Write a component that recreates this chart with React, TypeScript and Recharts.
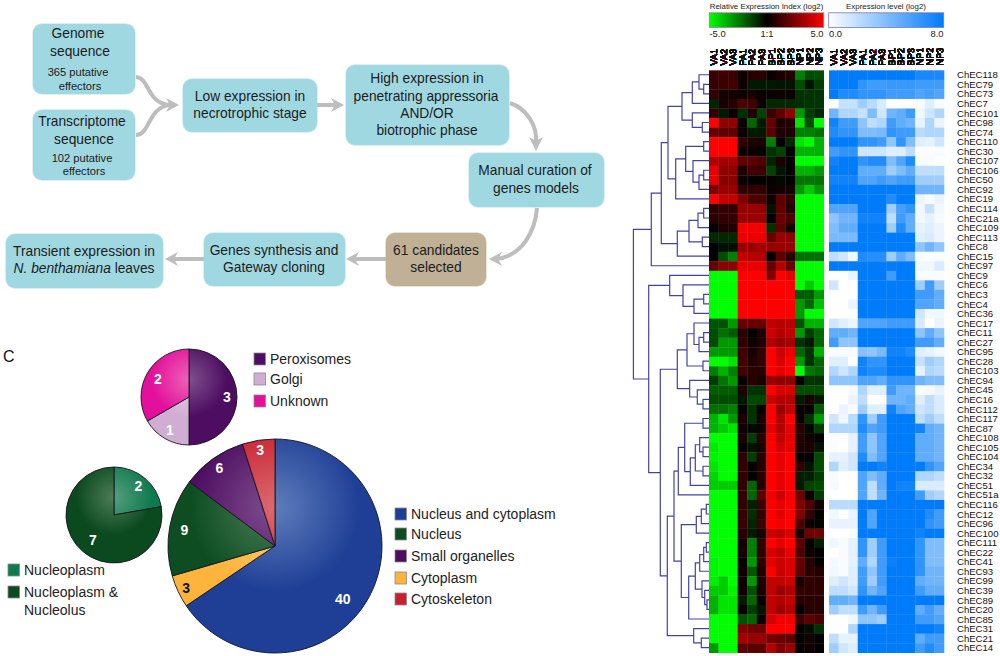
import React from 'react';
import { Cell, Line, LineChart, Pie, PieChart, Scatter, ScatterChart, XAxis, YAxis } from 'recharts';

const SANS = '"Liberation Sans", Arial, sans-serif';

// heatmap labels
const columnLabels = ['VA1', 'VA2', 'VA3', 'PA1', 'PA2', 'PA3', 'BP1', 'BP2', 'BP3', 'NP1', 'NP2', 'NP3'];
const rowLabels = [
  'ChEC118', 'ChEC79', 'ChEC73', 'ChEC7', 'ChEC101', 'ChEC98', 'ChEC74', 'ChEC110', 'ChEC30', 'ChEC107', 'ChEC106',
  'ChEC50', 'ChEC92', 'ChEC19', 'ChEC114', 'ChEC21a', 'ChEC109', 'ChEC113', 'ChEC8', 'ChEC15', 'ChEC97', 'ChEC9',
  'ChEC6', 'ChEC3', 'ChEC4', 'ChEC36', 'ChEC17', 'ChEC11', 'ChEC27', 'ChEC95', 'ChEC28', 'ChEC103', 'ChEC94',
  'ChEC45', 'ChEC16', 'ChEC112', 'ChEC117', 'ChEC87', 'ChEC108', 'ChEC105', 'ChEC104', 'ChEC34', 'ChEC32', 'ChEC51',
  'ChEC51a', 'ChEC116', 'ChEC12', 'ChEC96', 'ChEC100', 'ChEC111', 'ChEC22', 'ChEC41', 'ChEC93', 'ChEC99', 'ChEC39',
  'ChEC89', 'ChEC20', 'ChEC85', 'ChEC31', 'ChEC21', 'ChEC14',
];

// relative expression index, log2, one row per gene
const relativeExpression = [
  [1.2, 1.2, 1.2, 0.3, 0.8, 0.8, 0.2, 0.5, 0.7, -2.5, -1.5, -1.5],
  [1, 1.2, 1.3, 0.3, -0.5, -0.5, -0.5, -0.4, -0.4, -1.5, -0.4, -1.2],
  [1, 0.4, 0.4, 0.3, 0.4, 0.2, 0.2, 0.3, 0.2, -1, -1, -1],
  [-0.7, 0.5, 0.7, 1.5, 1.3, 0.2, -0.8, -0.8, -0.8, -0.9, -1, -1],
  [1, -0.5, 0.2, -0.9, 0.6, -1.3, 1.1, 1.8, 2.8, -3, -1.2, -0.8],
  [5, 2.8, 2.8, 0.2, -2, -0.5, 2, 0.5, 0.7, -4.5, -1.5, -5],
  [2, 1.8, 1.8, 0.2, -0.5, -0.5, 1.8, 0.6, 0.6, -2.5, -2.5, -2.2],
  [5, 5, 5, 0.9, 0.6, 0.5, -2.5, 0.1, -0.8, -4.5, -5, -3.5],
  [5, 5, 5, 0.3, 0.2, 0.1, -1, -1.3, 0.1, -3.5, -3.5, -3.5],
  [3.5, 3.2, 3.2, 1.8, 1.8, 1.5, -0.7, 0.5, 0.1, -5, -5, -5],
  [4.5, 2.8, 2.8, 0.5, 1.3, 1.2, -1.3, -0.4, 0.1, -3.5, -3.5, -3],
  [4.5, 2.7, 2.7, 0.2, 0.1, 0.1, 0.2, -0.2, 0.1, -2.3, -2.3, -2.3],
  [2.5, 3, 3, 0.9, 1, 1, 0.2, 0.4, 0.4, -3, -4, -3],
  [5, 3.8, 3.8, 2.5, 1.5, 1.5, 0.3, 1.8, 1, -5, -5, -5],
  [0.8, 1, 1, 3, 3, 3, -0.4, 1.8, 0.8, -5, -5, -5],
  [0.8, 1, 1, 3, 3, 3, 0.1, 2, 1.5, -5, -5, -5],
  [0.1, 0.6, 0.6, 4.8, 4.8, 4.8, -1, 1.8, 0.5, -5, -5, -5],
  [-0.8, -0.8, -0.8, 4.6, 4.6, 4.6, 2, 3, 2.8, -5, -5, -5],
  [0, -0.3, -0.3, 3, 3, 3.2, 3, 3, 3, -5, -5, -5],
  [0.1, -1.5, -2.5, 3.8, 3.5, 3.5, 0.1, 1.8, 0.8, -2.2, -2.2, -2.2],
  [2, 2.8, 2.8, 4.5, 4.5, 4.5, 2, 3.5, 2, -5, -5, -5],
  [-5, -5, -5, 5, 5, 5, 2.5, 5, 4.5, -5, -5, -5],
  [-5, -5, -5, 5, 5, 5, 5, 5, 5, -5, -4, -5],
  [-5, -5, -5, 5, 5, 5, 5, 5, 5, -1.8, -1.8, -3],
  [-5, -5, -5, 5, 5, 5, 5, 5, 5, -3, -2, -3.8],
  [-5, -5, -5, 5, 5, 5, 5, 5, 5, -3, -5, -5],
  [-1.6, -1.6, -3, 2, 2, 2, 3.8, 3.6, 3.6, -1.6, -3.5, -3.5],
  [-1.5, -2.2, -1.8, 0.8, 0.1, 0.6, 4, 3.5, 3.8, -3, -1.2, -2],
  [-1.5, -3, -3, 0.9, 0.3, 0.6, 3.5, 3, 3.2, -1, -0.5, -2],
  [-3, -3, -3, 1.3, 0.4, 1, 5, 4, 4.5, -2, -1, -3.5],
  [-5, -5, -4.5, 1.3, 0.6, 1, 5, 4.2, 5, -3, -1, -2],
  [-2.5, -3.5, -2.5, 1.3, 0.8, 0.8, 5, 4.5, 5, -5, -2.3, -2],
  [-1.2, -2.3, -3, 0.2, 0.8, 0.5, 3, 2.8, 2.8, 0.1, -1, -1],
  [-1.8, -1.8, -1.8, 0.6, -1, -1, 5, 4.2, 4.2, -1.5, -1.5, -1.5],
  [-1.5, -1.5, -1.5, -0.4, -1.4, -1.4, 4, 3.5, 3.5, -0.5, 0.5, -0.5],
  [-2.2, -2.2, -2.5, 0.1, -1, 0.1, 5, 3, 3.8, 0.2, 0.1, -1.8],
  [-3.5, -4.5, -3, 0.6, -1, 0.5, 5, 3.5, 5, 0.2, -1, -3],
  [-3.5, -4, -4.5, 0.3, -0.2, 0.4, 4.5, 3.5, 4.5, 0.8, -0.2, -1.2],
  [-5, -5, -5, 0.5, -1.2, 0.8, 5, 3.8, 4.5, 0.7, 0.3, 0.1],
  [-4.6, -5, -5, 0.2, -0.4, 0.5, 5, 4.2, 4.5, 0.6, 0.5, -0.4],
  [-4.8, -5, -5, 0.9, -1.2, 0.8, 5, 4.5, 5, 0.1, 0.1, -1.5],
  [-4.5, -5, -5, 1, 0.1, 0.8, 5, 4.5, 5, 1, -0.4, -1.5],
  [-4.2, -5, -5, 1, 0, 0.8, 5, 4.5, 5, -0.6, -0.6, -1.2],
  [-4, -4, -4, 1, -2, 0.8, 5, 4.5, 5, -0.5, -1.3, -1.5],
  [-5, -5, -5, 1, -2, 1.8, 4.8, 4, 4.8, 2.2, 0.2, -1.2],
  [-5, -5, -5, 1, -0.6, 1.2, 5, 4.5, 5, 2.5, 1.5, 0.4],
  [-5, -5, -5, 1.1, -0.9, 1, 5, 4.4, 5, 2.5, 1, 0.1],
  [-5, -5, -5, 1.1, -0.7, 1.2, 5, 4.8, 5, 1.5, 0.2, -0.1],
  [-5, -5, -5, 0.8, -0.5, 0.5, 4, 3.8, 4.3, 0.4, 2.2, 2.2],
  [-5, -5, -5, 0.4, -2.5, 0.9, 5, 4.5, 5, 1.8, 0.1, -0.6],
  [-5, -5, -5, 0.5, -2.5, 0.9, 4.3, 3.8, 4.5, 1.5, 0.2, 0.1],
  [-4.8, -5, -5, 0.1, -3, 0.9, 4.5, 4, 4.3, 2, 0.7, 0.1],
  [-4.8, -5, -5, 0.3, -1.7, 0.6, 5, 3.9, 4.3, 1.8, 0.8, 0.7],
  [-4.7, -4, -5, 0.2, -3, 0.5, 3.8, 3.8, 4, 0.4, 1, 0.9],
  [-4, -4, -4.8, 0.2, -1.6, 0.5, 3.8, 3, 3.4, 1, 0.9, 0.9],
  [-3.5, -4.5, -4.5, -0.5, -2, 0.1, 3.8, 3.5, 3.8, 0.7, 0.8, 0.8],
  [-3.5, -4.5, -4.5, 0.1, -1.2, -0.4, 3.8, 3, 3.5, 0.1, 0.8, 0.8],
  [-5, -5, -5, -1.6, -2, 0.2, 4.2, 4.7, 4.7, 1.2, 1.8, 1.5],
  [-5, -5, -5, 2.5, 2.2, 2.2, 5, 5, 5, 0.1, -0.3, -1],
  [-5, -5, -5, 3.2, 3, 3, 2.3, 2, 1.8, 0.1, 0.4, 0.1],
  [-3, -5, -5, 1.8, 1.7, 1.8, 3.5, 2.5, 3, 0.1, 0.3, 0.1],
];

// expression level, log2, same row order
const expressionLevel = [
  [8, 8, 8, 8, 8, 8, 8, 8, 8, 7.2, 7.2, 7.2],
  [8, 8, 8, 6.5, 6, 6, 6.2, 6.2, 6.2, 6, 6, 6],
  [8, 7, 7, 6.5, 6.5, 6.5, 6, 6, 6, 5.5, 5.8, 5.5],
  [0, 1.8, 1.8, 3, 2.2, 1.2, 0, 0, 0, 0.2, 1, 0.2],
  [4.5, 2.5, 2.5, 1.8, 4, 1.5, 4.5, 5, 6, 0.5, 1.5, 2.5],
  [7.5, 6, 6, 3.5, 2, 2.5, 6, 5, 4.5, 0.7, 2.5, 0.6],
  [7, 6.5, 6.5, 4, 4, 4.2, 6.5, 6, 6, 2.2, 2.5, 2.5],
  [8, 8, 8, 6.5, 6.5, 6, 3.5, 6.5, 4, 1, 0.8, 1.5],
  [6, 6.5, 6.5, 1.5, 1.5, 1.5, 1, 1, 2, 0.1, 0.1, 0.2],
  [7.5, 8, 8, 6.5, 7, 7, 4, 5.5, 7, 0.2, 0.2, 0.1],
  [8, 8, 8, 5, 5, 5, 3, 4, 5, 2, 2, 2],
  [7.5, 7.5, 7.5, 5.5, 5.5, 6, 5.5, 6, 6, 3, 3, 3],
  [8, 8, 8, 8, 8, 8, 8, 8, 8, 4.5, 4.5, 4.5],
  [8, 8, 8, 8, 8, 8, 7, 8, 8, 0.6, 0.2, 0.6],
  [5.5, 5.5, 5.5, 8, 8, 8, 3, 5.8, 6.5, 0.4, 1.8, 0.4],
  [3.5, 4.5, 4.5, 7.5, 7.5, 7.5, 2, 6, 5, 0.4, 0.8, 0.3],
  [4, 5, 5, 8, 8, 8, 3, 7, 5, 0.8, 1, 0.6],
  [4.2, 4.2, 4.2, 8, 8, 8, 8, 8, 8, 1, 1.2, 0.6],
  [8, 8, 8, 8, 8, 8, 8, 8, 8, 3.5, 4.5, 3.5],
  [2, 1.5, 0.4, 7, 6.8, 6.8, 3, 5, 4, 0.2, 0.1, 0.2],
  [8, 8, 8, 8, 8, 8, 8, 8, 8, 0.5, 0.5, 1.2],
  [0, 0, 0.6, 8, 8, 8, 6, 8, 8, 0.2, 0.2, 0.2],
  [1.5, 0, 0, 8, 8, 8, 8, 8, 8, 3, 6, 3],
  [0, 0, 0, 8, 8, 8, 8, 8, 8, 6, 6, 5],
  [0, 0, 0.6, 8, 8, 8, 8, 8, 8, 5.5, 5.5, 5],
  [0, 0, 0, 8, 8, 8, 8, 8, 8, 1.5, 0.4, 0.5],
  [1.5, 1, 0.6, 5.5, 5.5, 5.5, 6, 6, 6, 1.2, 0, 0.6],
  [5, 5, 4.5, 8, 8, 8, 8, 8, 8, 3.5, 5, 3.5],
  [6, 3.5, 3.5, 8, 8, 8, 8, 8, 8, 6, 6, 5],
  [0.2, 0.2, 0.2, 3.8, 3.5, 4.2, 7.5, 7.5, 7, 1, 0.8, 0.4],
  [1, 1, 0, 7.5, 6.5, 6.5, 8, 8, 8, 1.8, 3, 2.5],
  [2.5, 1.5, 2.5, 7.5, 7, 7, 8, 8, 8, 0.8, 2.5, 2.2],
  [3.5, 3.5, 3.5, 5.5, 5.5, 5, 6.5, 6.5, 6.5, 4.5, 4, 4],
  [0, 0, 0.3, 2.5, 1, 1, 6, 4.5, 4.5, 0.2, 0.3, 0.7],
  [0, 0, 0.6, 2, 0.1, 0.1, 4.5, 4.5, 5, 1, 2, 1.2],
  [0, 0.6, 0.2, 3, 1, 1, 7.5, 5.5, 5, 1.5, 2, 1.2],
  [1.5, 0.5, 2.2, 6.5, 3, 6, 8, 8, 8, 2, 3, 2],
  [2.5, 2.5, 2.5, 7, 5.5, 6, 8, 8, 8, 7.5, 5, 4.5],
  [0.1, 0.1, 0.8, 6, 3.5, 5.5, 8, 8, 8, 5, 5, 4.5],
  [0.1, 0, 0.8, 6, 3.5, 5.5, 8, 8, 8, 5, 5, 4.5],
  [0.8, 0.8, 1.5, 7, 4, 5.5, 8, 8, 8, 5, 5, 4.5],
  [2.5, 1, 1.5, 8, 8, 7.5, 8, 8, 8, 8, 6.5, 5.5],
  [0.2, 0, 0, 5.5, 4, 5, 8, 8, 8, 2.5, 2.5, 2],
  [0.3, 0, 0, 5.5, 2, 5, 8, 7.5, 7.5, 1.2, 1.2, 1.2],
  [0, 0, 0, 5.5, 2, 4.5, 8, 8, 8, 6, 3, 2.5],
  [2.2, 2.2, 2.2, 8, 8, 8, 8, 8, 8, 8, 8, 8],
  [0.4, 0, 0.6, 8, 5.5, 8, 8, 8, 8, 8, 7, 6],
  [0.7, 0.7, 0.7, 8, 5.5, 8, 8, 8, 8, 8, 6.5, 6],
  [0, 0, 0.2, 8, 8, 8, 8, 8, 8, 7.5, 8, 8],
  [0.5, 0.2, 0.8, 6.5, 3, 6, 8, 8, 8, 6.5, 4, 4],
  [0, 0.2, 0.8, 6.5, 3, 6, 8, 8, 8, 6.5, 4, 4],
  [0.3, 0.2, 0.8, 5, 2.5, 6, 7.7, 8, 8, 6.5, 4, 4],
  [0.4, 0.2, 1, 6, 3.5, 6, 8, 8, 8, 6.5, 4.5, 4.5],
  [1, 1.5, 1, 6, 3, 6, 8, 8, 8, 5, 4.5, 4.5],
  [2, 2, 1.5, 6.5, 4.5, 5.5, 8, 8, 8, 6, 5, 5],
  [5, 5, 4.5, 8, 8, 8, 8, 8, 8, 8, 8, 8],
  [3, 2, 2, 6, 4.5, 6, 8, 8, 8, 5, 6, 5],
  [0, 0, 0.5, 3.5, 3.5, 3, 8, 8, 8, 6, 6, 5.5],
  [0, 0, 2.5, 8, 8, 8, 8, 8, 8, 8, 8, 7.5],
  [2, 0.8, 0.8, 8, 8, 8, 8, 8, 8, 5, 6, 6],
  [3, 1.5, 1, 8, 8, 8, 8, 8, 8, 6, 7, 6],
];

// clustering of the rows: [merge distance, child, child], a child is a row index or another merge
type TreeNode = number | [number, TreeNode, TreeNode];
const upperCluster: TreeNode = [57.7,
  [47.7,
    [41,
      [27, [16.7, [10, 0, [5.3, 1, 2]], 3], [16.7, 4, [6.7, 5, 6]]],
      [33.3, [23.3, [5.3, 7, 8], [16, 9, [10, [5.3, 10, 11], 12]]], 13]],
    [31.7, [20, [11, [5.3, 14, 15], 16], [6.7, 17, 18]], 19]],
  20];
const middleCluster: TreeNode = [39.3, 21, [26, 22, [15, [5.3, 23, 24], 25]]];
const lowerCluster: TreeNode = [48.7,
  [31.7,
    [22, [15, 26, [10, [5.3, 27, 28], 29]], [6, 30, 31]],
    [19.3, 32, [11.7, 33, [6, 34, 35]]]],
  [41.7,
    [35,
      [30.7, [24.3, [6, 36, 37], [18.7, [13.7, [9.3, 38, [6, 39, 40]], [6, 41, 42]], 43]], 44],
      [27.7,
        [12.7, [7.7, [2.7, 45, 46], 47], 48],
        [20.3, [13.7, [9.3, [5.3, [2.7, 49, 50], 51], 52], [7, 53, [4.3, 54, [2, 55, 56]]]], 57]]],
    [15.3, 58, [7.7, 59, 60]]]];
const rootCluster: TreeNode = [75.6, upperCluster, [60.3, middleCluster, lowerCluster]];

// pies
const mainNames = ['Nucleus and cytoplasm', 'Cytoplasm', 'Nucleus', 'Small organelles', 'Cytoskeleton'];
const mainValues = [40, 3, 9, 6, 3];
const organelleNames = ['Peroxisomes', 'Golgi', 'Unknown'];
const organelleValues = [3, 1, 2];
const nucleusNames = ['Nucleoplasm', 'Nucleoplasm & Nucleolus'];
const nucleusValues = [2, 7];

const mainColors = [['#5f7dbb', '#1f3f96'], ['#ffcf70', '#fdb43c'], ['#4c7f55', '#0e4d22'], ['#80508f', '#4d0d61'], ['#dc6a70', '#c8202f']];
const organelleColors = [['#80508f', '#4d0d61'], ['#e6d3e8', '#d0aed4'], ['#ee62b8', '#e2109b']];
const nucleusColors = [['#559f7c', '#0f7a4e'], ['#4e7d58', '#0b4a1e']];

const redGreen = (v: number) => {
  const k = Math.round((Math.min(Math.abs(v), 5) / 5) * 255);
  return v >= 0 ? `rgb(${k},0,0)` : `rgb(0,${k},0)`;
};
const whiteBlue = (v: number) => {
  const t = v / 8;
  return `rgb(${Math.round(255 * (1 - t))},${Math.round(255 - 132 * t)},${Math.round(255 - 5 * t)})`;
};

const toCells = (rows: number[][]) =>
  rows.flatMap((values, r) => values.map((value, c) => ({ column: columnLabels[c], row: rowLabels[r], value })));

const CELL_W = 9.56;
const CELL_H = 9.548;
const HEAT_H = CELL_H * 61;
const HEAT_TOP = 70.3;

// opacity keeps the rotated glyphs on grey antialiasing, they smear otherwise
const ColumnTick = ({ x, payload }: any) => (
  <text transform={`translate(${x + 3.4},65.5) rotate(-90)`} fontSize={9.2} fill="#111" fontFamily={SANS} opacity={0.99}
    textRendering="geometricPrecision">
    {payload.value}
  </text>
);

const RowTick = ({ x, y, payload }: any) => (
  <text x={x + 5} y={y + 3.3} fontSize={9.6} fill="#111" fontFamily={SANS}>
    {payload.value}
  </text>
);

const Heatmap = ({ rows, color, left, width, showRows }: any) => (
  <div style={{ position: 'absolute', left, top: 0 }}>
    <ScatterChart width={width} height={HEAT_TOP + HEAT_H} margin={{ top: 0, right: 0, bottom: 0, left: 0 }}>
      <XAxis type="category" dataKey="column" scale="band" orientation="top" height={HEAT_TOP} allowDuplicatedCategory={false}
        interval={0} axisLine={false} tickLine={false} tick={<ColumnTick />} />
      <YAxis type="category" dataKey="row" scale="band" reversed orientation="right" width={showRows ? 56 : 0} hide={!showRows}
        allowDuplicatedCategory={false} interval={0} axisLine={false} tickLine={false} tick={<RowTick />} />
      <Scatter data={toCells(rows)} isAnimationActive={false}
        shape={(p: any) => (
          <rect x={p.cx - CELL_W / 2} y={p.cy - CELL_H / 2} width={CELL_W + 0.3} height={CELL_H + 0.3} fill={color(p.payload.value)} />
        )} />
    </ScatterChart>
  </div>
);

// turns the cluster tree into one polyline per merge, with gaps between them
const treePoints = (root: TreeNode) => {
  const points: { x: number; y: number | null }[] = [];
  const walk = (node: TreeNode): { h: number; y: number } => {
    if (typeof node === 'number') return { h: 0, y: node + 0.5 };
    const a = walk(node[1]);
    const b = walk(node[2]);
    points.push({ x: a.h, y: a.y }, { x: node[0], y: a.y }, { x: node[0], y: b.y }, { x: b.h, y: b.y }, { x: b.h, y: null });
    return { h: node[0], y: (a.y + b.y) / 2 };
  };
  walk(root);
  return points;
};

const Dendrogram = () => (
  <div style={{ position: 'absolute', left: 629.3, top: HEAT_TOP }}>
    <LineChart width={80} height={HEAT_H} data={treePoints(rootCluster)} margin={{ top: 0, right: 0, bottom: 0, left: 0 }}>
      <XAxis type="number" dataKey="x" domain={[0, 80]} reversed hide />
      <YAxis type="number" domain={[0, 61]} reversed hide />
      <Line dataKey="y" type="linear" stroke="#4343a3" strokeWidth={1.2} dot={false} isAnimationActive={false} />
    </LineChart>
  </div>
);

const SlicePie = ({ id, names, values, colors, cx, cy, r, focus, labelR, labelTurn, darkLabels = [] }: any) => {
  const data = names.map((name: string, i: number) => ({ name, value: values[i] }));
  const size = r * 2 + 4;
  const renderLabel = (p: any) => {
    const a = ((p.midAngle - (labelTurn?.[p.index] ?? 0)) * Math.PI) / 180;
    const rad = labelR[p.index];
    return (
      <text x={p.cx + rad * Math.cos(a)} y={p.cy - rad * Math.sin(a) + 5} textAnchor="middle" fontSize={14} fontWeight="bold"
        fontFamily={SANS} fill={darkLabels.includes(p.index) ? '#111' : '#fff'}>
        {p.value}
      </text>
    );
  };
  return (
    <div style={{ position: 'absolute', left: cx - r - 2, top: cy - r - 2 }}>
      <PieChart width={size} height={size} margin={{ top: 0, right: 0, bottom: 0, left: 0 }}>
        <defs>
          {colors.map((c: string[], i: number) => (
            <radialGradient key={i} id={`${id}${i}`} gradientUnits="userSpaceOnUse" cx={r + 2} cy={r + 2 + focus} r={r * 1.05}>
              <stop offset="0%" stopColor={c[0]} />
              <stop offset="75%" stopColor={c[1]} />
            </radialGradient>
          ))}
        </defs>
        <Pie data={data} dataKey="value" nameKey="name" cx={r + 2} cy={r + 2} outerRadius={r} startAngle={90} endAngle={-270}
          stroke="#15151f" strokeWidth={0.9} isAnimationActive={false} labelLine={false} label={renderLabel}>
          {data.map((d: any, i: number) => <Cell key={d.name} fill={`url(#${id}${i})`} />)}
        </Pie>
      </PieChart>
    </div>
  );
};

const Swatch = ({ x, y, color, text, text2 }: any) => (
  <g>
    <rect x={x} y={y - 6} width={11.5} height={12} fill={color} stroke="#8a8a8a" strokeWidth={0.8} />
    <text x={x + 16} y={y + 5} fontSize={14} fill="#222" fontFamily={SANS}>{text}</text>
    {text2 && <text x={x + 16} y={y + 22.5} fontSize={14} fill="#222" fontFamily={SANS}>{text2}</text>}
  </g>
);

const Box = ({ x, y, w, h, fill = '#a0d8e2' }: any) => <rect x={x} y={y} width={w} height={h} rx={9} fill={fill} stroke={fill} strokeOpacity={0.5} strokeWidth={1.5} />;

const Txt = ({ x, y, size = 14.6, children }: any) => (
  <text transform={`translate(${x},${y + size * 0.35}) scale(0.945,1)`} fontSize={size} textAnchor="middle" fill="#1c1c1c" fontFamily={SANS}>{children}</text>
);

const Head = ({ x, y, dir }: any) => {
  const pts = { r: [[-13, -7], [0, 0], [-13, 7], [-9, 0]], l: [[13, -7], [0, 0], [13, 7], [9, 0]], d: [[-7, -14], [0, 0], [7, -14], [0, -10]] }[dir as 'r' | 'l' | 'd'];
  return <polygon points={pts.map(([a, b]) => `${x + a},${y + b}`).join(' ')} fill="#bdbdbd" />;
};

const Flowchart = () => (
  <g>
    <g fill="none" stroke="#bdbdbd" strokeWidth={4}>
      <path d="M136 77 C150 78,146 103,170 105" />
      <path d="M136 135 C150 135,148 107,170 105" />
      <path d="M317 105 H336" />
      <path d="M510 103 C525 108,538 124,536 144" />
      <path d="M537 208 C535 232,522 256,496 259" />
      <path d="M386 259 H355" />
      <path d="M204 259 H174" />
    </g>
    <Head x={179} y={105} dir="r" />
    <Head x={344} y={105} dir="r" />
    <Head x={536} y={151} dir="d" />
    <Head x={489} y={259} dir="l" />
    <Head x={346} y={259} dir="l" />
    <Head x={165} y={259} dir="l" />
    <Box x={33} y={24} w={102} h={70} />
    <Box x={33} y={110} w={102} h={70} />
    <Box x={183} y={79} w={134} h={53} />
    <Box x={346} y={65} w={163} h={80} />
    <Box x={469} y={153} w={135} h={54} />
    <Box x={386} y={233} w={100} h={53} fill="#bfb096" />
    <Box x={204} y={233} w={141} h={53} />
    <Box x={6} y={234} w={157} h={54} />
    <Txt x={78} y={33}>Genome</Txt>
    <Txt x={80} y={51}>sequence</Txt>
    <Txt x={78} y={72} size={11.8}>365 putative</Txt>
    <Txt x={80} y={86} size={11.8}>effectors</Txt>
    <Txt x={82} y={121}>Transcriptome</Txt>
    <Txt x={84} y={139}>sequence</Txt>
    <Txt x={82} y={158} size={11.8}>102 putative</Txt>
    <Txt x={84} y={171} size={11.8}>effectors</Txt>
    <Txt x={250} y={96}>Low expression in</Txt>
    <Txt x={250} y={113}>necrotrophic stage</Txt>
    <Txt x={427} y={78}>High expression in</Txt>
    <Txt x={426} y={96}>penetrating appressoria</Txt>
    <Txt x={427} y={113}>AND/OR</Txt>
    <Txt x={427} y={130}>biotrophic phase</Txt>
    <Txt x={535} y={170}>Manual curation of</Txt>
    <Txt x={536} y={188}>genes models</Txt>
    <Txt x={436} y={250}>61 candidates</Txt>
    <Txt x={436} y={267}>selected</Txt>
    <Txt x={274} y={250}>Genes synthesis and</Txt>
    <Txt x={274} y={267}>Gateway cloning</Txt>
    <Txt x={84} y={251}>Transient expression in</Txt>
    <Txt x={84} y={268}><tspan fontStyle="italic">N. benthamiana</tspan> leaves</Txt>
  </g>
);

const ScaleBars = () => (
  <g fontFamily={SANS} fill="#222">
    <defs>
      <linearGradient id="scaleRG">
        <stop offset="0%" stopColor="#00ff00" />
        <stop offset="50%" stopColor="#000" />
        <stop offset="100%" stopColor="#ff0000" />
      </linearGradient>
      <linearGradient id="scaleWB">
        <stop offset="0%" stopColor="#fff" />
        <stop offset="100%" stopColor={whiteBlue(8)} />
      </linearGradient>
    </defs>
    <text x={766.5} y={8.5} fontSize={7.9} textAnchor="middle">Relative Expression Index (log2)</text>
    <text x={886} y={8.5} fontSize={7.9} textAnchor="middle">Expression level (log2)</text>
    <rect x={709.3} y={12.8} width={114.4} height={14.6} fill="url(#scaleRG)" stroke="#8a8a8a" strokeWidth={0.8} />
    <rect x={828.7} y={12.8} width={115} height={14.6} fill="url(#scaleWB)" stroke="#7a7ab8" strokeWidth={0.8} />
    <text x={709.5} y={37} fontSize={9.4}>-5.0</text>
    <text x={767} y={37} fontSize={9.4} textAnchor="middle">1:1</text>
    <text x={823.5} y={37} fontSize={9.4} textAnchor="end">5.0</text>
    <text x={829} y={37} fontSize={9.4}>0.0</text>
    <text x={943.5} y={37} fontSize={9.4} textAnchor="end">8.0</text>
  </g>
);

export default function App() {
  return (
    <div style={{ position: 'absolute', left: 0, top: 0, width: 1000, height: 656, background: '#fff', overflow: 'hidden' }}>
      <svg width={1000} height={656} style={{ position: 'absolute', left: 0, top: 0 }}>
        <Flowchart />
        <ScaleBars />
        <text x={3} y={362} fontSize={16} fill="#111" fontFamily={SANS}>C</text>
        <Swatch x={254} y={359} color={organelleColors[0][1]} text={organelleNames[0]} />
        <Swatch x={254} y={379} color={organelleColors[1][1]} text={organelleNames[1]} />
        <Swatch x={254} y={401} color={organelleColors[2][1]} text={organelleNames[2]} />
        <Swatch x={8} y={570} color={nucleusColors[0][1]} text={nucleusNames[0]} />
        <Swatch x={8} y={592} color={nucleusColors[1][1]} text="Nucleoplasm &" text2="Nucleolus" />
        <Swatch x={395} y={514} color={mainColors[0][1]} text={mainNames[0]} />
        <Swatch x={395} y={534} color={mainColors[2][1]} text={mainNames[2]} />
        <Swatch x={395} y={556} color={mainColors[3][1]} text={mainNames[3]} />
        <Swatch x={395} y={578} color={mainColors[1][1]} text={mainNames[1]} />
        <Swatch x={395} y={599} color={mainColors[4][1]} text={mainNames[4]} />
      </svg>
      <SlicePie id="main" names={mainNames} values={mainValues} colors={mainColors} cx={275} cy={546} r={107} focus={-39}
        labelR={[86, 98, 92, 96, 97]} labelTurn={[10, 0, 0, 0, 0]} darkLabels={[1]} />
      <SlicePie id="org" names={organelleNames} values={organelleValues} colors={organelleColors} cx={189} cy={396.5} r={48} focus={-18}
        labelR={[38, 38, 36]} />
      <SlicePie id="nuc" names={nucleusNames} values={nucleusValues} colors={nucleusColors} cx={114} cy={514.5} r={48} focus={-18}
        labelR={[38, 33]} />
      <Dendrogram />
      <Heatmap rows={relativeExpression} color={redGreen} left={709.3} width={114.7} />
      <Heatmap rows={expressionLevel} color={whiteBlue} left={828.7} width={115 + 56} showRows />
    </div>
  );
}
